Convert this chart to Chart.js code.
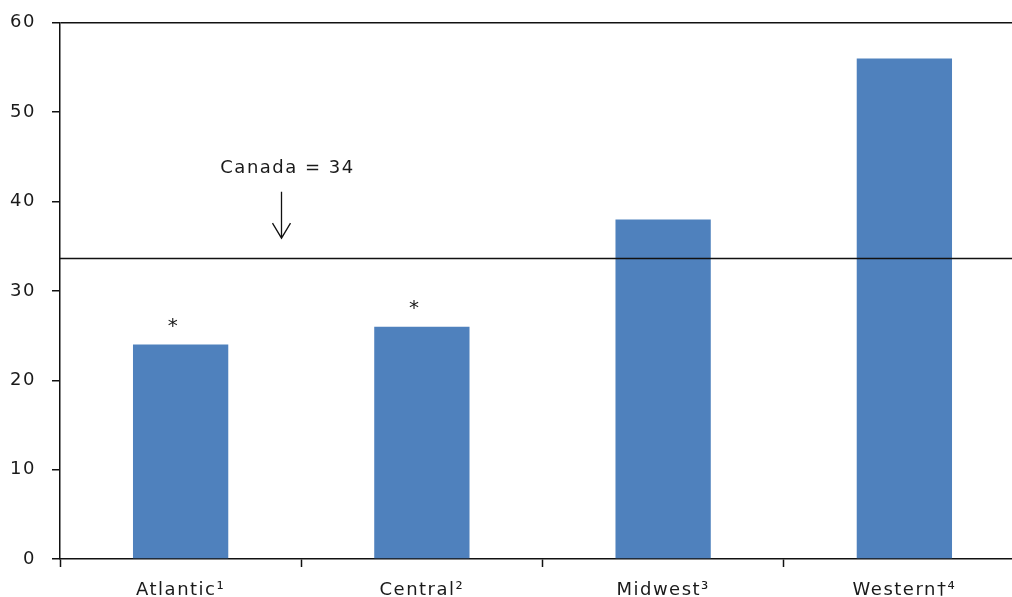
<!DOCTYPE html>
<html><head><meta charset="utf-8">
<script src="https://cdn.jsdelivr.net/npm/chart.js@4/dist/chart.umd.min.js"></script>
<style>
html,body{margin:0;padding:0;overflow:hidden;background:#fff;}
#wrap{width:1012px;height:597px;overflow:hidden;position:relative;}
#c{position:absolute;left:0;top:-4px;}
</style></head>
<body><div id="wrap"><canvas id="c" width="1026" height="601"></canvas></div>
<script>
const categories = ['Atlantic\u00B9', 'Central\u00B2', 'Midwest\u00B3', 'Western\u2020\u2074'];
const values = [24, 26, 38, 56];
const flagged = ['*', '*', '', ''];
const canadaValue = 33.7;
const canadaLabel = 'Canada = 34';
const yTicks = [0, 10, 20, 30, 40, 50, 60];

const FONT = '"DejaVu Sans", Verdana, sans-serif';
const FS = 18;
const TXT = '#1a1a1a';

const spacing = {
  id: 'spacing',
  beforeDraw(chart) { chart.ctx.letterSpacing = '1.5px'; }
};

const overlay = {
  id: 'overlay',
  afterDatasetsDraw(chart) {
    const ctx = chart.ctx, y = chart.scales.y, x = chart.scales.x, a = chart.chartArea;
    ctx.save();
    const ly = Math.round(y.getPixelForValue(canadaValue)) + 0.5;
    ctx.strokeStyle = '#111'; ctx.lineWidth = 1.5;
    ctx.beginPath(); ctx.moveTo(a.left, ly); ctx.lineTo(a.right, ly); ctx.stroke();
    const ax = Math.round(x.getPixelForValue(0) + 0.417 * (x.getPixelForValue(1) - x.getPixelForValue(0))) + 0.5;
    const top = y.getPixelForValue(41.1), tip = y.getPixelForValue(35.9);
    ctx.lineWidth = 1.3;
    ctx.beginPath(); ctx.moveTo(ax, top); ctx.lineTo(ax, tip);
    ctx.moveTo(ax - 9, tip - 15); ctx.lineTo(ax, tip); ctx.lineTo(ax + 9, tip - 15);
    ctx.stroke();
    ctx.letterSpacing = '1.5px';
    ctx.fillStyle = TXT; ctx.font = FS + 'px ' + FONT; ctx.textAlign = 'center'; ctx.textBaseline = 'middle';
    ctx.fillText(canadaLabel, ax + 6, y.getPixelForValue(43.7));
    const meta = chart.getDatasetMeta(0);
    meta.data.forEach((bar, i) => {
      if (flagged[i]) {
        ctx.letterSpacing = '0px';
        ctx.font = '20px ' + FONT;
        ctx.fillText(flagged[i], bar.x - 8, bar.y - 18);
      }
    });
    ctx.restore();
  }
};

new Chart(document.getElementById('c'), {
  type: 'bar',
  data: {
    labels: categories,
    datasets: [{ data: values, backgroundColor: '#4F81BD', borderWidth: 0,
      barPercentage: 0.395, categoryPercentage: 1 }]
  },
  options: {
    responsive: false, animation: false,
    layout: { padding: { top: 14, right: 1, left: 0, bottom: 0 } },
    plugins: { legend: { display: false }, tooltip: { enabled: false } },
    scales: {
      x: {
        grid: { display: true, drawOnChartArea: false, offset: true, tickLength: 8, tickColor: '#111', tickWidth: 1.5 },
        border: { display: true, color: '#111', width: 1.5 },
        ticks: { color: TXT, font: { family: FONT, size: FS }, padding: 13, maxRotation: 0 },
        afterFit(s) { s.height = 38; }
      },
      y: {
        min: 0, max: 60,
        afterBuildTicks(s) { s.ticks = yTicks.map(v => ({ value: v })); },
        grid: {
          drawOnChartArea: true, tickLength: 8, tickWidth: 1.5,
          color: c => (c.tick && c.tick.value === 60) ? '#111' : 'rgba(0,0,0,0)',
          lineWidth: 1.5, tickColor: '#111'
        },
        border: { display: true, color: '#111', width: 1.5 },
        ticks: { color: TXT, font: { family: FONT, size: FS }, padding: 16 },
        afterFit(s) { s.width = 60; }
      }
    }
  },
  plugins: [spacing, overlay]
});
</script></body></html>
